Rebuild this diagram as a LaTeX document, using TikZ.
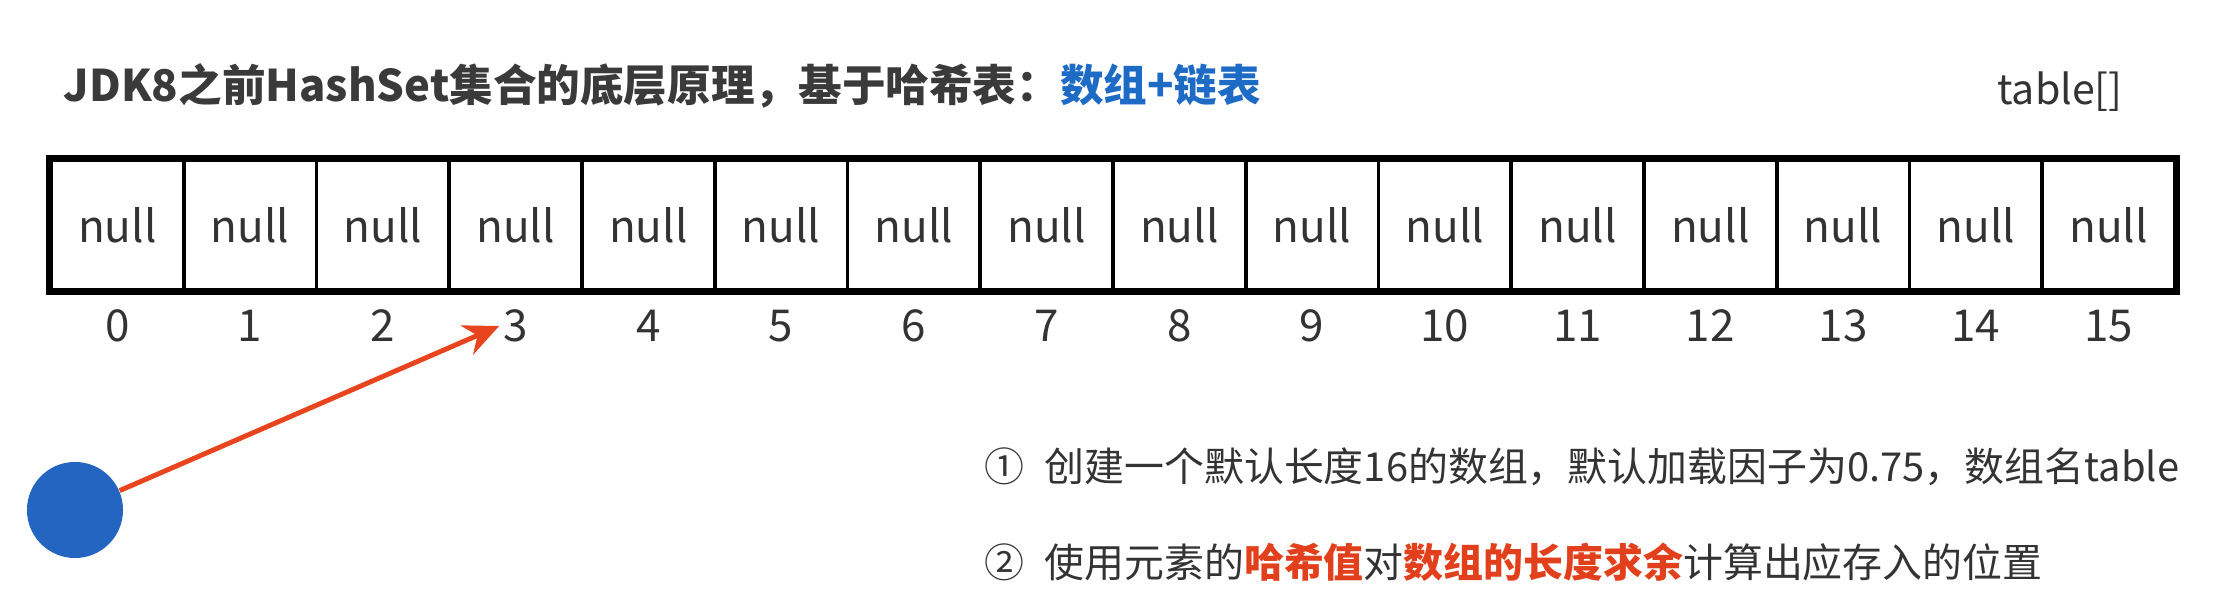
\documentclass[tikz,border=0pt]{standalone}
\usepackage{fontspec}
\setmainfont{Noto Sans CJK SC}
\usetikzlibrary{arrows.meta}
\definecolor{titlegray}{HTML}{3A3A3A}
\definecolor{txtgray}{HTML}{333333}
\definecolor{hblue}{HTML}{1E6BC6}
\definecolor{hred}{HTML}{E2401C}
\definecolor{ballblue}{HTML}{2565C2}
\definecolor{arrred}{HTML}{E8441E}
\tikzset{
  cell/.style={draw=black, line width=1.1pt, minimum width=132.75*0.01cm, minimum height=1.30cm, inner sep=0pt, font=\fontsize{12.5}{14}\selectfont, text=txtgray},
  idx/.style={font=\fontsize{12.5}{14}\selectfont, text=txtgray, inner sep=1pt},
  note/.style={font=\fontsize{11.35}{13}\selectfont, text=txtgray, anchor=west, inner sep=0pt},
  arr/.style={draw=arrred, line width=1.4pt, -{Stealth[length=10pt,width=9pt]}},
}
\begin{document}
\begin{tikzpicture}[x=0.01cm,y=-0.01cm]
\useasboundingbox (0,0) rectangle (2220,610);
\node[anchor=west, inner sep=0pt, font=\fontsize{12.4}{15}\selectfont\bfseries, text=titlegray] (title) at (63,86) {JDK8之前HashSet集合的底层原理，基于哈希表：\textcolor{hblue}{数组+链表}};
\node[inner sep=0pt, font=\fontsize{11.7}{14}\selectfont, text=txtgray] (tbl) at (2060,92) {table[]};
\foreach \i in {0,...,15} {
  \node[cell] (c\i) at ({51+132.75*(\i+0.5)},225) {null};
  \node[idx] (i\i) at ({51+132.75*(\i+0.5)},326) {\i};
}
\draw[line width=1.6pt] (c0.north west) rectangle (c15.south east);
\node[circle, fill=ballblue, minimum size=0.96cm, inner sep=0pt] (ball) at (75,510) {};
\draw[arr] (ball) -- (i3.west);
\node[note] (n1) at (984,467) {①\hspace{0.5em}创建一个默认长度16的数组，默认加载因子为0.75，数组名table};
\node[note] (n2) at (984,562) {②\hspace{0.5em}使用元素的\textcolor{hred}{\bfseries 哈希值}对\textcolor{hred}{\bfseries 数组的长度求余}计算出应存入的位置};
\end{tikzpicture}
\end{document}
